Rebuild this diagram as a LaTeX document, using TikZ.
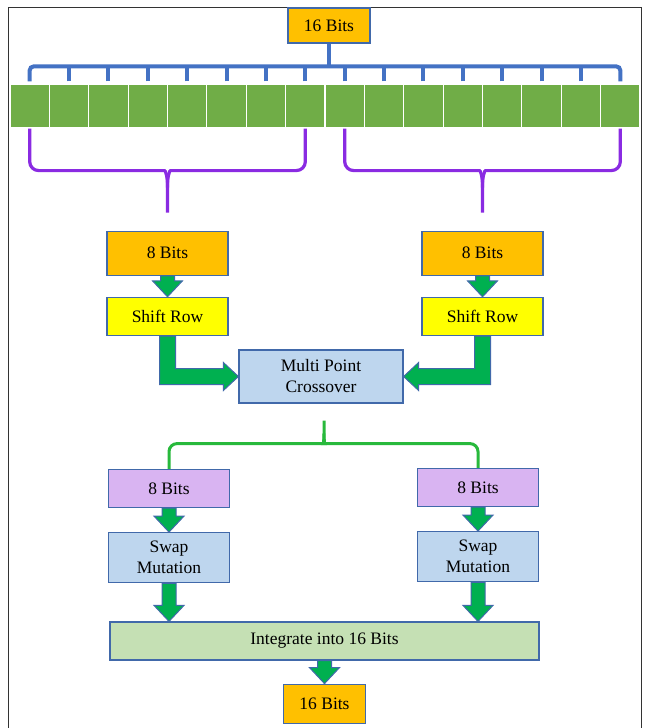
\documentclass[tikz,border=0pt]{standalone}
\usepackage{fontspec}
\setmainfont{Liberation Serif}
\usetikzlibrary{positioning,calc}
\definecolor{myorange}{RGB}{255,192,0}
\definecolor{myyellow}{RGB}{255,255,0}
\definecolor{mylightblue}{RGB}{190,214,238}
\definecolor{mylilac}{RGB}{217,180,242}
\definecolor{mypalegreen}{RGB}{197,224,180}
\definecolor{mycell}{RGB}{112,173,71}
\definecolor{mybus}{RGB}{68,114,196}
\definecolor{mypurple}{RGB}{138,43,226}
\definecolor{mybrace}{RGB}{40,185,60}
\definecolor{myarrow}{RGB}{0,176,80}
\definecolor{myborder}{RGB}{65,105,170}
\newcommand\downblock[2]{
  \draw[blockarrow] ($(#1.south)+(-7,0)$) -- ($(#1.south |- #2.north)+(-7,-16)$)
    -- ++(-8,0) -- (#1.south |- #2.north) -- ++(15,-16) -- ++(-8,0)
    -- ($(#1.south)+(7,0)$) -- cycle;
}

\begin{document}
\begin{tikzpicture}[x=1pt,y=-1pt,node distance=21pt,
    box/.style={
      draw=myborder,
      line width=1.2pt,
      minimum width=121pt,
      minimum height=40pt,
      inner sep=0pt,
      align=center,
      font={\fontsize{17.5}{21}\selectfont}},
    orangebox/.style={box,fill=myorange},
    yellowbox/.style={box,fill=myyellow,minimum height=38pt},
    bluebox/.style={box,fill=mylightblue},
    lilacbox/.style={box,fill=mylilac,minimum height=38pt},
    greenbox/.style={box,fill=mypalegreen},
    cell/.style={draw=white,line width=1.2pt,fill=mycell,
      minimum width=39.4pt,minimum height=44pt,inner sep=0pt},
    bus/.style={draw=mybus,line width=4pt},
    pbrace/.style={draw=mypurple,line width=3.2pt},
    gbrace/.style={draw=mybrace,line width=3pt},
    blockarrow/.style={fill=myarrow,draw=myborder,line width=1pt,line join=miter},
    ]
    \useasboundingbox (0,0) rectangle (646,728);
    \draw[black!80,line width=0.8pt] (8,740) -- (8,7) -- (641,7) -- (641,740);

    % top word and its 16 bits
    \node[orangebox,minimum width=82pt,minimum height=35pt] (top) at (329,25.5) {16 Bits};
    \foreach \i in {1,...,16}
      \node[cell] (c\i) at ({10+(\i-0.5)*39.375},106) {};
    \coordinate (busy) at ([yshift=17pt]c1.north);
    \draw[bus] (top.south) -- (top.south |- busy);
    \draw[bus,rounded corners=4pt] ([yshift=2pt]c1.north) -- (c1.north |- busy)
      -- (c16.north |- busy) -- ([yshift=2pt]c16.north);
    \foreach \i in {2,...,15}
      \draw[bus] ([yshift=2pt]c\i.north) -- (c\i.north |- busy);

    % split into two halves
    \coordinate (bl) at ($(c1.south)!0.5!(c8.south)+(0,42)$);
    \coordinate (tipl) at ($(bl)+(0,42)$);
    \coordinate (br) at ($(c9.south)!0.5!(c16.south)+(0,42)$);
    \coordinate (tipr) at ($(br)+(0,42)$);
    \draw[pbrace] (c1.south) [rounded corners=9pt] |- ($(bl)+(-12,0)$) [sharp corners]
      .. controls +(10,0) and +(0,-12) .. ($(bl)+(0,17)$) -- (tipl);
    \draw[pbrace] (c8.south) [rounded corners=9pt] |- ($(bl)+(12,0)$) [sharp corners]
      .. controls +(-10,0) and +(0,-12) .. ($(bl)+(0,17)$);
    \draw[pbrace] (c9.south) [rounded corners=9pt] |- ($(br)+(-12,0)$) [sharp corners]
      .. controls +(10,0) and +(0,-12) .. ($(br)+(0,17)$) -- (tipr);
    \draw[pbrace] (c16.south) [rounded corners=9pt] |- ($(br)+(12,0)$) [sharp corners]
      .. controls +(-10,0) and +(0,-12) .. ($(br)+(0,17)$);

    \node[orangebox,minimum height=44pt,below=18pt of tipl] (b8l) {8 Bits};
    \node[orangebox,minimum height=44pt,below=18pt of tipr] (b8r) {8 Bits};
    \node[yellowbox,below=of b8l] (shl) {Shift Row};
    \node[yellowbox,below=of b8r] (shr) {Shift Row};
    \node[bluebox,minimum width=164pt,minimum height=53pt] (cross) at (321,376.5) {Multi Point\\Crossover};

    % crossover result
    \coordinate (gb) at ($(cross.south)+(3,40)$);
    \coordinate (gtip) at ($(cross.south)+(3,17)$);
    \node[lilacbox] (p8l) at (169,488.5) {8 Bits};
    \node[lilacbox] (p8r) at (478,487.5) {8 Bits};
    \draw[gbrace] (p8l.north) [rounded corners=8pt] |- ($(gb)+(-8,0)$) [sharp corners]
      .. controls +(7,0) and +(0,7) .. ($(gb)+(0,-10)$) -- (gtip);
    \draw[gbrace] (p8r.north) [rounded corners=8pt] |- ($(gb)+(8,0)$) [sharp corners]
      .. controls +(-7,0) and +(0,7) .. ($(gb)+(0,-10)$);
    \node[bluebox,minimum height=50pt,below=24pt of p8l] (swl) {Swap\\Mutation};
    \node[bluebox,minimum height=50pt,below=24pt of p8r] (swr) {Swap\\Mutation};
    \node[greenbox,minimum width=429pt,minimum height=38pt] (integ) at (324.5,641) {Integrate into 16 Bits};
    \node[orangebox,minimum width=82pt,minimum height=39pt,below=23pt of integ] (bot) {16 Bits};

    % arrows
    \downblock{b8l}{shl}
    \downblock{b8r}{shr}
    \downblock{p8l}{swl}
    \downblock{p8r}{swr}
    \downblock{swl}{integ}
    \downblock{swr}{integ}
    \downblock{integ}{bot}
    \draw[blockarrow] ($(shl.south)+(-8,0)$) |- ($(cross.west)+(-15,8)$) -- ++(0,6)
      -- (cross.west) -- ++(-15,-14) -- ++(0,6) -| ($(shl.south)+(8,0)$) -- cycle;
    \draw[blockarrow] ($(shr.south)+(8,0)$) |- ($(cross.east)+(15,8)$) -- ++(0,6)
      -- (cross.east) -- ++(15,-14) -- ++(0,6) -| ($(shr.south)+(-8,0)$) -- cycle;
\end{tikzpicture}
\end{document}
